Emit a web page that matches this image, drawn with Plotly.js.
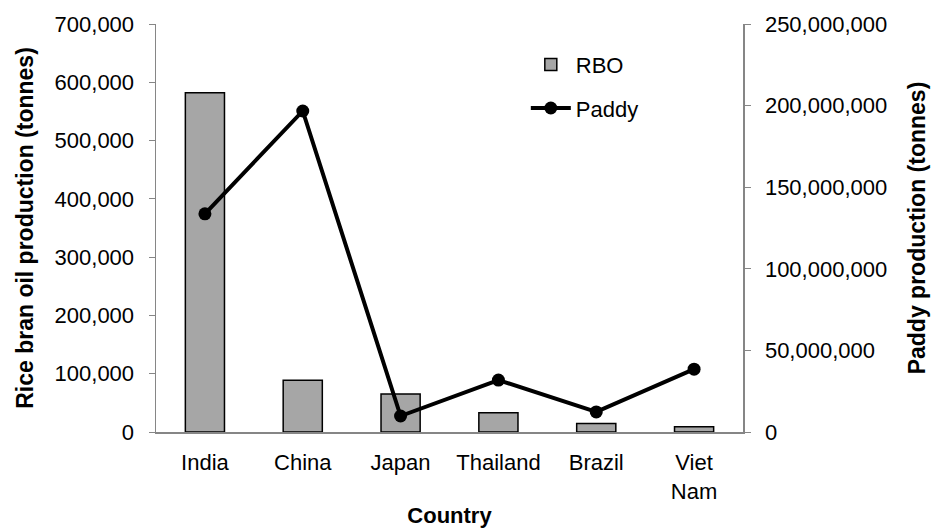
<!DOCTYPE html>
<html>
<head>
<meta charset="utf-8">
<script src="https://cdn.plot.ly/plotly-3.0.1.min.js"></script>
<style>html,body{margin:0;padding:0;background:#fff;}#chart{width:949px;height:530px;}</style>
</head>
<body>
<div id="chart"></div>
<script>
var countries = ["India", "China", "Japan", "Thailand", "Brazil", "Viet<br>Nam"];
var rboValues = [582000, 89000, 65000, 33000, 14500, 9000];
var paddyValues = [133700000, 196700000, 9800000, 31800000, 12300000, 38500000];

var axisGray = "#868686";
var fontFam = "Liberation Sans, Arial, sans-serif";

var traces = [
  {
    type: "bar", name: "RBO", x: countries, y: rboValues, yaxis: "y",
    marker: {color: "#A6A6A6", line: {color: "#000", width: 1.5}},
    legendgroup: "a"
  },
  {
    type: "scatter", mode: "lines+markers", name: "Paddy", x: countries, y: paddyValues, yaxis: "y2",
    line: {color: "#000", width: 4}, marker: {color: "#000", size: 13},
    legendgroup: "b"
  }
];

var layout = {
  width: 949, height: 530,
  margin: {l: 156, r: 206, t: 24, b: 98},
  paper_bgcolor: "#fff", plot_bgcolor: "#fff",
  font: {family: fontFam, size: 22, color: "#000"},
  showlegend: true,
  legend: {x: 0.63, y: 0.952, xanchor: "left", yanchor: "top", bgcolor: "rgba(0,0,0,0)",
           font: {size: 22}, tracegroupgap: 12, itemwidth: 40},
  bargap: 0.6,
  xaxis: {
    showline: true, linecolor: axisGray, linewidth: 1.5, ticks: "", showgrid: false,
    tickfont: {size: 22}, zeroline: false, ticklabelstandoff: 10,
    title: {text: "<b>Country</b>", font: {size: 22}, standoff: 5}
  },
  yaxis: {
    range: [0, 700000], dtick: 100000, tickformat: ",d", showline: true, linecolor: axisGray, linewidth: 1.5,
    ticks: "outside", ticklen: 6, tickcolor: axisGray, showgrid: false, zeroline: false,
    tickfont: {size: 22}, ticklabelstandoff: 10,
    title: {text: "<b>Rice bran oil production (tonnes)</b>", font: {size: 23}, standoff: 14}
  },
  yaxis2: {
    range: [0, 250000000], dtick: 50000000, tickformat: ",d", overlaying: "y", side: "right",
    showline: true, linecolor: axisGray, linewidth: 1.5,
    ticks: "outside", ticklen: 6, tickcolor: axisGray, showgrid: false, zeroline: false,
    tickfont: {size: 22}, ticklabelstandoff: 10,
    title: {text: "<b>Paddy production (tonnes)</b>", font: {size: 23}, standoff: 22}
  }
};

Plotly.newPlot("chart", traces, layout, {displayModeBar: false, staticPlot: true});
</script>
</body>
</html>
